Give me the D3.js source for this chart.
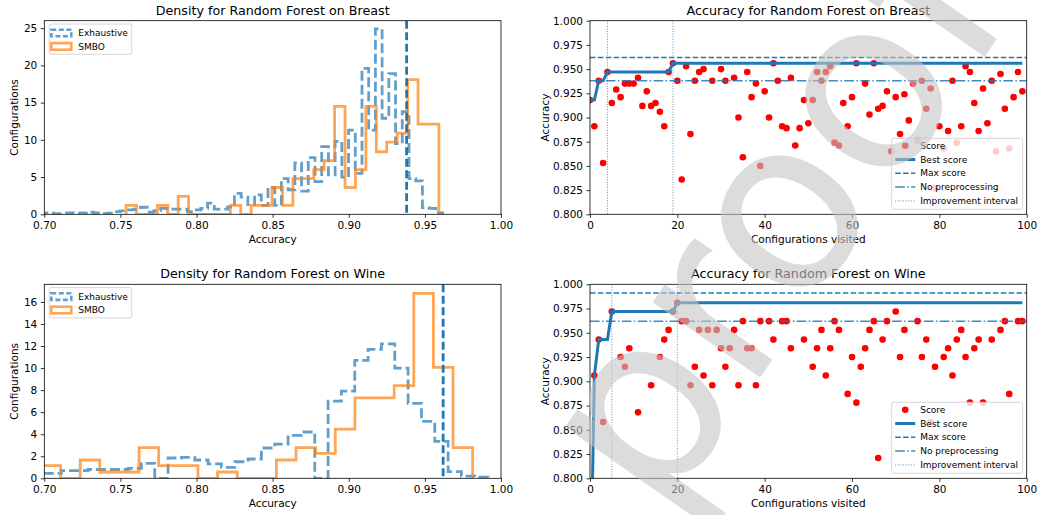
<!DOCTYPE html>
<html>
<head>
<meta charset="utf-8">
<script src="https://cdn.jsdelivr.net/npm/d3@7"></script>
<style>
body { margin: 0; background: #fff; }
svg text { font-family: "DejaVu Sans", sans-serif; }
</style>
</head>
<body>
<svg id="chart" width="1049" height="515"></svg>
<script>
/*************
Data
**************/
// density histograms (bin start, bin width, heights)
const breastExhaustStart = 0.697, breastExhaustWidth = 0.00441;
const breastExhaustive = [
 0.1, 0.2, 0.1, 0.1, 0.2, 0.1, 0.2, 0.3, 0.2, 0.1,
 0.15, 0.35, 0.45, 0.6, 0.7, 0.95, 0.3, 0.5, 0.8, 0.7,
 0.7, 0.7, 0.35, 0.6, 0.8, 1.5, 0.7, 0.7, 1.0, 2.8,
 2.3, 1.3, 2.6, 1.2, 3.6, 1.2, 4.8, 3.3, 6.9, 3.1,
 7.6, 4.4, 9.1, 5.3, 9.8, 5.0, 11.3, 5.5, 19.6, 11.3,
 24.9, 12.9, 18.9, 9.5, 13.8, 4.8, 4.5, 0.9, 0.8, 0.2
];
const breastSmboStart = 0.7537, breastSmboWidth = 0.00685;
const breastSmbo = [
 1.2, 0, 0, 1.2, 0, 2.4, 0, 0, 0, 0,
 1.2, 0, 1.2, 1.2, 3.6, 1.2, 4.8, 4.8, 6.0, 7.2,
 14.5, 3.6, 6.0, 14.5, 8.4, 9.7, 10.9, 18.1, 12.1, 12.1
];
const wineExhaustStart = 0.6937, wineExhaustWidth = 0.00876;
const wineExhaustive = [
 0.45, 0.45, 0.7, 0.7, 0.8, 0.8, 0.8, 0.9, 1.36, 0,
 1.84, 1.9, 1.66, 1.3, 1.0, 1.5, 1.75, 2.75, 3.1, 3.9,
 4.2, 0, 7.0, 7.9, 10.7, 11.7, 12.2, 10.0, 6.8, 5.16,
 3.35, 0.6, 0.2, 0.1
];
const wineSmboStart = 0.6978, wineSmboWidth = 0.01289;
const wineSmbo = [
 1.15, 0, 1.66, 0.57, 0.57, 2.78, 1.15, 1.15, 0, 0.57,
 0, 0, 1.66, 2.78, 2.27, 4.47, 7.3, 7.3, 8.4, 16.77,
 10.06, 2.78
];

// accuracy per configuration visited (null = not visible in the plot)
const breastScores = [
 0.918, 0.891, 0.938, 0.853, 0.947, 0.915, 0.929, 0.921, 0.935, 0.935,
 0.935, 0.941, 0.912, 0.927, 0.912, 0.915, 0.906, 0.891, 0.947, 0.956,
 0.938, 0.836, 0.953, 0.883, 0.938, 0.947, 0.950, null, 0.938, null,
 0.950, 0.938, null, 0.941, 0.900, 0.859, 0.947, 0.921, 0.935, 0.850,
 0.927, 0.900, 0.956, 0.938, 0.891, 0.889, 0.941, 0.871, 0.889, 0.918,
 0.894, 0.918, 0.947, 0.938, 0.947, 0.953, 0.874, 0.871, 0.915, 0.891,
 0.921, 0.956, null, 0.935, 0.903, 0.956, 0.909, 0.912, 0.927, 0.865,
 0.921, 0.883, 0.924, 0.897, 0.935, 0.876, 0.938, 0.909, 0.930, 0.827,
 0.891, 0.868, 0.886, 0.938, 0.874, 0.891, 0.953, 0.947, 0.915, 0.886,
 0.930, 0.894, 0.938, 0.865, 0.945, 0.909, 0.868, 0.921, 0.947, 0.927
];
const wineScores = [
 0.65, 0.906, 0.943, 0.858, null, 0.972, null, 0.925, 0.915, 0.934,
 null, 0.868, null, null, 0.896, null, 0.925, 0.943, 0.953, 0.972,
 0.981, 0.962, 0.962, 0.896, 0.915, 0.953, 0.906, 0.953, 0.896, 0.953,
 0.934, 0.915, 0.934, 0.953, 0.896, 0.962, 0.934, 0.934, 0.896, 0.962,
 null, 0.962, 0.943, null, 0.962, 0.962, 0.934, null, null, 0.943,
 null, 0.915, 0.934, 0.953, 0.906, 0.934, 0.962, 0.953, null, 0.887,
 0.925, 0.878, 0.915, 0.934, 0.953, 0.962, 0.821, 0.943, 0.962, null,
 0.972, 0.925, 0.953, null, null, 0.962, 0.925, 0.943, 0.858, 0.915,
 null, 0.925, 0.934, 0.906, 0.943, 0.953, 0.925, 0.878, 0.934, 0.943,
 0.878, null, 0.943, null, 0.953, 0.962, 0.887, null, 0.962, 0.962
];

const breastMax = 0.962, breastNoPrep = 0.938, breastImprove = [4, 19];
const wineMax = 0.991, wineNoPrep = 0.962, wineImprove = [5, 20];

const accTicks = [0.70, 0.75, 0.80, 0.85, 0.90, 0.95, 1.00];
const breastDensTicks = [0, 5, 10, 15, 20, 25];
const wineDensTicks = [0, 2, 4, 6, 8, 10, 12, 14, 16];
const visitTicks = [0, 20, 40, 60, 80, 100];
const scoreTicks = [0.800, 0.825, 0.850, 0.875, 0.900, 0.925, 0.950, 0.975, 1.000];

/*************
Params
**************/
const blue = "#1f77b4", orange = "#ff7f0e";
const svg = d3.select("#chart");
let clipId = 0;

function stepPoints(start, width, heights) {
  const pts = [[start, 0]];
  heights.forEach((h, i) => {
    pts.push([start + i * width, h]);
    pts.push([start + (i + 1) * width, h]);
  });
  pts.push([start + heights.length * width, 0]);
  return pts;
}

function axes(g, box, x, y, xt, yt, xf, yf, xlabel, ylabel, ylabelX) {
  const gx = g.append("g").attr("transform", `translate(0,${box.bottom})`)
    .call(d3.axisBottom(x).tickValues(xt).tickFormat(xf).tickSizeInner(3.5).tickSizeOuter(0).tickPadding(4));
  const gy = g.append("g").attr("transform", `translate(${box.left},0)`)
    .call(d3.axisLeft(y).tickValues(yt).tickFormat(yf).tickSizeInner(3.5).tickSizeOuter(0).tickPadding(3.5));
  [gx, gy].forEach(a => {
    a.select(".domain").remove();
    a.attr("font-size", 10.5).attr("font-family", "DejaVu Sans");
    a.selectAll("line").attr("stroke", "#000").attr("stroke-width", 0.8);
    a.selectAll("text").attr("fill", "#000");
  });
  g.append("rect").attr("x", box.left).attr("y", box.top)
    .attr("width", box.right - box.left).attr("height", box.bottom - box.top)
    .attr("fill", "none").attr("stroke", "#000").attr("stroke-width", 0.8);
  g.append("text").attr("x", (box.left + box.right) / 2).attr("y", box.bottom + 29)
    .attr("text-anchor", "middle").attr("font-size", 10.5).text(xlabel);
  g.append("text").attr("transform", `translate(${ylabelX},${(box.top + box.bottom) / 2}) rotate(-90)`)
    .attr("text-anchor", "middle").attr("dy", "0.35em").attr("font-size", 10.5).text(ylabel);
  g.append("text").attr("x", (box.left + box.right) / 2).attr("y", box.top - 6)
    .attr("text-anchor", "middle").attr("font-size", 12.7).text(box.title);
}

function clip(g, box) {
  const id = "clip" + (clipId++);
  g.append("clipPath").attr("id", id).append("rect")
    .attr("x", box.left).attr("y", box.top)
    .attr("width", box.right - box.left).attr("height", box.bottom - box.top);
  return g.append("g").attr("clip-path", `url(#${id})`);
}

function drawHist(box, exh, smbo, ymax, yt, vline) {
  const g = svg.append("g");
  const x = d3.scaleLinear().domain([0.70, 1.00]).range([box.left, box.right]);
  const y = d3.scaleLinear().domain([0, ymax]).range([box.bottom, box.top]);
  const line = d3.line().x(d => x(d[0])).y(d => y(d[1]));
  const c = clip(g, box);
  c.append("path").attr("d", line(stepPoints(exh.start, exh.width, exh.values)))
    .attr("fill", "none").attr("stroke", blue).attr("stroke-opacity", 0.7)
    .attr("stroke-width", 2.8).attr("stroke-dasharray", "10,4");
  c.append("path").attr("d", line(stepPoints(smbo.start, smbo.width, smbo.values)))
    .attr("fill", "none").attr("stroke", orange).attr("stroke-opacity", 0.7)
    .attr("stroke-width", 2.8).attr("stroke-linejoin", "miter");
  c.append("line").attr("x1", x(vline)).attr("x2", x(vline))
    .attr("y1", box.top).attr("y2", box.bottom)
    .attr("stroke", blue).attr("stroke-width", 2.8).attr("stroke-dasharray", "8,3.5");
  axes(g, box, x, y, accTicks, yt, d3.format(".2f"), d3.format("d"),
    "Accuracy", "Configurations", box.left - 29.5);

  // legend
  const lg = g.append("g").attr("transform", `translate(${box.left + 5},${box.top + 3.3})`);
  lg.append("rect").attr("width", 82.4).attr("height", 30.3).attr("rx", 2)
    .attr("fill", "#fff").attr("fill-opacity", 0.8).attr("stroke", "#ccc").attr("stroke-width", 0.8);
  [["Exhaustive", blue, "5,2.5"], ["SMBO", orange, null]].forEach((e, i) => {
    const ry = 9 + i * 13.4;
    lg.append("rect").attr("x", 2).attr("y", ry - 3.3).attr("width", 20).attr("height", 6.6)
      .attr("fill", "none").attr("stroke", e[1]).attr("stroke-opacity", 0.7).attr("stroke-width", 2.6)
      .attr("stroke-dasharray", e[2]);
    lg.append("text").attr("x", 29).attr("y", ry).attr("dy", "0.35em").attr("font-size", 9).text(e[0]);
  });
}

function drawTrace(box, scores, maxScore, noPrep, improve) {
  const g = svg.append("g");
  const x = d3.scaleLinear().domain([0, 100]).range([box.left, box.right]);
  const y = d3.scaleLinear().domain([0.8, 1.0]).range([box.bottom, box.top]);
  const c = clip(g, box);
  const pts = scores.map((s, i) => [i, s]).filter(d => d[1] !== null);
  const best = [];
  let run = -Infinity;
  scores.forEach((s, i) => { if (s !== null && s > run) run = s; best.push([i, run]); });

  c.selectAll("circle").data(pts).enter().append("circle")
    .attr("cx", d => x(d[0])).attr("cy", d => y(d[1])).attr("r", 3.3).attr("fill", "red");
  c.append("path").attr("d", d3.line().x(d => x(d[0])).y(d => y(d[1]))(best))
    .attr("fill", "none").attr("stroke", blue).attr("stroke-width", 3);
  c.append("line").attr("x1", box.left).attr("x2", box.right).attr("y1", y(maxScore)).attr("y2", y(maxScore))
    .attr("stroke", blue).attr("stroke-width", 1.5).attr("stroke-dasharray", "5.5,2.4");
  c.append("line").attr("x1", box.left).attr("x2", box.right).attr("y1", y(noPrep)).attr("y2", y(noPrep))
    .attr("stroke", blue).attr("stroke-opacity", 0.85).attr("stroke-width", 1.5).attr("stroke-dasharray", "9.6,2.4,1.5,2.4");
  improve.forEach(v => {
    c.append("line").attr("x1", x(v)).attr("x2", x(v)).attr("y1", box.top).attr("y2", box.bottom)
      .attr("stroke", blue).attr("stroke-opacity", 0.75).attr("stroke-width", 1).attr("stroke-dasharray", "1,1.6");
  });
  axes(g, box, x, y, visitTicks, scoreTicks, d3.format("d"), d3.format(".3f"),
    "Configurations visited", "Accuracy", box.left - 45);

  // legend
  const lg = g.append("g").attr("transform", `translate(${box.right - 135},${box.bottom - 76})`);
  lg.append("rect").attr("width", 131).attr("height", 71).attr("rx", 2)
    .attr("fill", "#fff").attr("fill-opacity", 0.8).attr("stroke", "#ccc").attr("stroke-width", 0.8);
  const items = [
    ["Score", null], ["Best score", [3, null, 1]], ["Max score", [1.5, "5.5,2.4", 1]],
    ["No preprocessing", [1.5, "9.6,2.4,1.5,2.4", 0.85]], ["Improvement interval", [1, "1,1.6", 0.75]]
  ];
  items.forEach((e, i) => {
    const ry = 7.4 + i * 13.8;
    if (e[1] === null) {
      lg.append("circle").attr("cx", 13.5).attr("cy", ry).attr("r", 3.3).attr("fill", "red");
    } else {
      lg.append("line").attr("x1", 3.5).attr("x2", 23.5).attr("y1", ry).attr("y2", ry)
        .attr("stroke", blue).attr("stroke-width", e[1][0]).attr("stroke-dasharray", e[1][1])
        .attr("stroke-opacity", e[1][2]);
    }
    lg.append("text").attr("x", 28.5).attr("y", ry).attr("dy", "0.35em").attr("font-size", 9).text(e[0]);
  });
}

/*************
Draw
**************/
drawHist({left: 44.3, right: 501, top: 20.7, bottom: 214.3, title: "Density for Random Forest on Breast"},
  {start: breastExhaustStart, width: breastExhaustWidth, values: breastExhaustive},
  {start: breastSmboStart, width: breastSmboWidth, values: breastSmbo},
  26.0, breastDensTicks, breastNoPrep);
drawHist({left: 44.3, right: 501, top: 284.3, bottom: 478.3, title: "Density for Random Forest on Wine"},
  {start: wineExhaustStart, width: wineExhaustWidth, values: wineExhaustive},
  {start: wineSmboStart, width: wineSmboWidth, values: wineSmbo},
  17.6, wineDensTicks, wineNoPrep);
drawTrace({left: 590, right: 1026.7, top: 20.7, bottom: 214.3, title: "Accuracy for Random Forest on Breast"},
  breastScores, breastMax, breastNoPrep, breastImprove);
drawTrace({left: 590, right: 1026.7, top: 284.3, bottom: 478.3, title: "Accuracy for Random Forest on Wine"},
  wineScores, wineMax, wineNoPrep, wineImprove);

// watermark
svg.append("text")
  .attr("transform", "translate(660,520) rotate(-55)")
  .attr("font-family", "Liberation Serif").attr("font-size", 240)
  .attr("fill", "#c4c4c4").attr("fill-opacity", 0.6)
  .text("proof");
</script>
</body>
</html>
